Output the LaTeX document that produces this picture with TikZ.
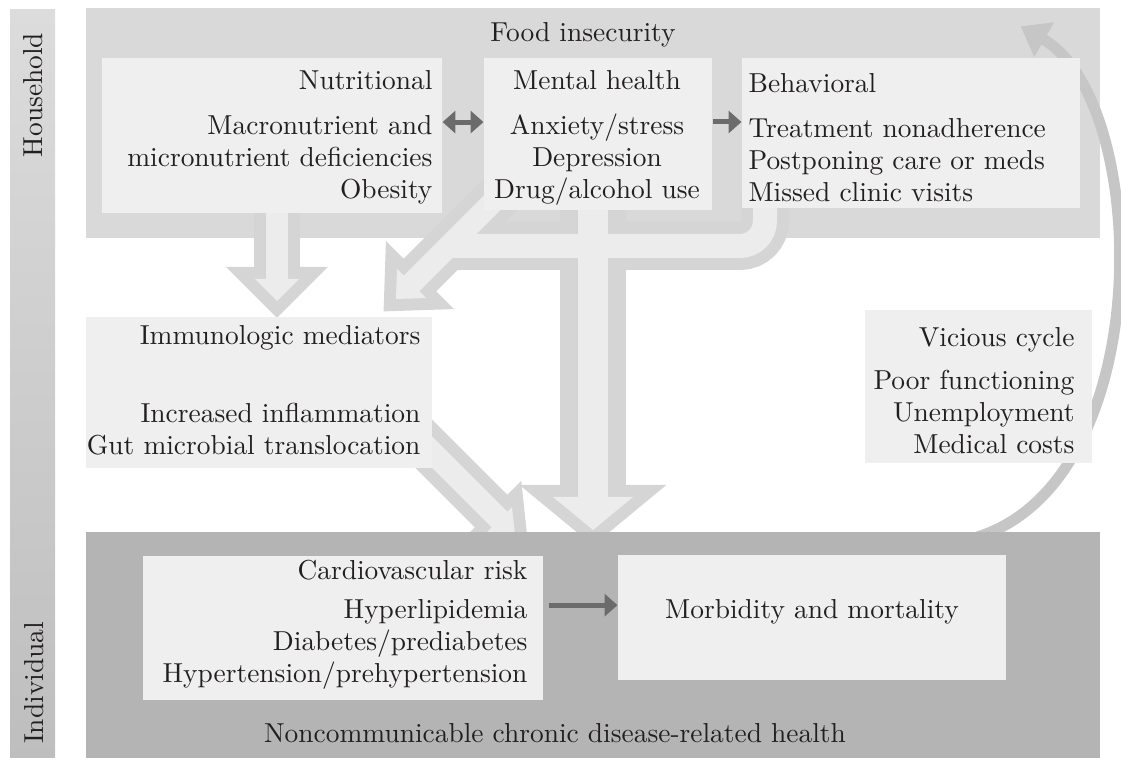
\documentclass[tikz,border=0pt]{standalone}
\usepackage{tikz}
\usetikzlibrary{arrows.meta}
\usepackage{xcolor}

\definecolor{stripTop}{HTML}{DCDCDC}
\definecolor{stripBottom}{HTML}{BEBEBE}
\definecolor{houseGray}{HTML}{D9D9D9}
\definecolor{indivGray}{HTML}{B4B4B4}
\definecolor{panelGray}{HTML}{EFEFEF}
\definecolor{pipeEdge}{HTML}{D5D5D5}
\definecolor{pipeFill}{HTML}{ECECEC}
\definecolor{cycleGray}{HTML}{C6C6C6}
\definecolor{arrowDark}{HTML}{6B6B6B}
\definecolor{inkDark}{HTML}{231F20}

\pgfdeclarelayer{back}
\pgfdeclarelayer{pipes}
\pgfsetlayers{back,pipes,main}

\tikzstyle{level} = [rectangle, inner sep=0pt, draw=none]
\tikzstyle{panel} = [rectangle, inner sep=0pt, fill=panelGray]
\tikzstyle{boxtext} = [inner sep=0pt, text=inkDark]
\tikzstyle{pipeedge} = [draw=pipeEdge, line cap=butt]
\tikzstyle{pipefill} = [draw=pipeFill, line cap=butt]
\tikzstyle{pipetipedge} = [draw=pipeEdge, fill=pipeEdge, line width=8.4pt, line join=miter]
\tikzstyle{darkarrow} = [draw=arrowDark, line width=1.75pt, -{Triangle[length=4.5pt,width=7.7pt]}]
\tikzstyle{cyclearrow} = [draw=cycleGray, line width=3.85pt, -{Triangle[length=9.5pt,width=13.3pt]}]

\begin{document}
\begin{tikzpicture}[x=0.35pt, y=-0.35pt, font=\fontsize{9.6}{11.2}\selectfont]
	\useasboundingbox (0,0) rectangle (1121,758);

	\begin{pgfonlayer}{back}
		\node (strip) [level, top color=stripTop, bottom color=stripBottom, minimum width=15.75pt, minimum height=261.8pt] at (32.5,384) {};
		\node (house) [level, fill=houseGray, minimum width=354.9pt, minimum height=80.5pt] at (593,123) {};
	\end{pgfonlayer}

	\node (hhLabel) [boxtext, rotate=90] at (33,95) {Household};
	\node (indLabel) [boxtext, rotate=90] at (34,683) {Individual};
	\node (title) [boxtext] at (583,35) {Food insecurity};

	% household panels
	\node (nutr) [panel, minimum width=119pt, minimum height=54.25pt] at (272,135.5) {};
	\node (nutrText) [boxtext, anchor=east, align=right] at (433,137.5) {Nutritional\\[4.55pt] Macronutrient and\\ micronutrient deficiencies\\ Obesity};
	\node (ment) [panel, minimum width=79.8pt, minimum height=53.2pt] at (598,134) {};
	\node (mentText) [boxtext, align=center] at (597,137.5) {Mental health\\[4.55pt] Anxiety/stress\\ Depression\\ Drug/alcohol use};
	\node (behav) [panel, minimum width=118.3pt, minimum height=52.5pt] at (911,133) {};
	\node (behavText) [boxtext, anchor=west, align=left] at (748,137.5) {Behavioral\\[4.55pt] Treatment nonadherence\\ Postponing care or meds\\ Missed clinic visits};

	% middle panels
	\node (immu) [panel, minimum width=121.1pt, minimum height=52.85pt] at (259,392.5) {};
	\node (immuText) [boxtext, anchor=east, align=right] at (421,390) {Immunologic mediators\\[16.1pt] Increased inflammation\\ Gut microbial translocation};
	\node (vici) [panel, minimum width=79.45pt, minimum height=53.55pt] at (978.5,386.5) {};
	\node (viciText) [boxtext, anchor=east, align=right] at (1075,390.5) {Vicious cycle\\[3.85pt] Poor functioning\\ Unemployment\\ Medical costs};

	% individual level
	\node (indiv) [level, fill=indivGray, minimum width=354.9pt, minimum height=79.1pt] at (593,645) {};
	\node (cardio) [panel, minimum width=140pt, minimum height=50.4pt] at (343,628) {};
	\node (cardioText) [boxtext, anchor=east, align=right] at (528,625) {Cardiovascular risk\\[2.45pt] Hyperlipidemia\\ Diabetes/prediabetes\\ Hypertension/prehypertension};
	\node (morb) [panel, minimum width=135.8pt, minimum height=43.75pt] at (812,617.5) {};
	\node (morbText) [boxtext] at (812,612) {Morbidity and mortality};
	\node (ncd) [boxtext] at (555,733) {Noncommunicable chronic disease-related health};

	\draw [darkarrow, {Triangle[length=4.5pt,width=7.7pt]}-{Triangle[length=4.5pt,width=7.7pt]}] ([yshift=4.7pt]nutr.east) -- ([yshift=4.7pt]nutr.east -| ment.west);
	\draw [darkarrow] ([yshift=4.2pt]ment.east) -- ([yshift=4.2pt]ment.east -| behav.west);
	\draw [darkarrow] ([xshift=1.75pt,yshift=8pt]cardio.east) -- ([yshift=8pt]cardio.east -| morb.west);

	\begin{pgfonlayer}{pipes}
		% grey rims
		\draw [pipeedge, line width=16.1pt] (277,200) -- (277,280);
		\draw [pipeedge, line width=16.8pt, rounded corners=8.75pt] (765,195) -- (765,246) -- (450,246);
		\draw [pipeedge, line width=16.1pt] (505,190) -- (411,284);
		\draw [pipeedge, line width=23.1pt] (593,195) -- (593,498);
		\draw [pipeedge, line width=16.1pt] (405,425) -- (500,520);
		\filldraw [pipetipedge] (255,279) -- (299,279) -- (277,301) -- cycle;
		\filldraw [pipetipedge] (397,269) -- (426,298) -- (396,299) -- cycle;
		\filldraw [pipetipedge] (553,497) -- (633,497) -- (593,530) -- cycle;
		\filldraw [pipetipedge] (512,507) -- (487,532) -- (515,535) -- cycle;
		% light insides
		\draw [pipefill, line width=7.7pt] (277,200) -- (277,280);
		\draw [pipefill, line width=8.4pt, rounded corners=8.75pt] (765,195) -- (765,246) -- (450,246);
		\draw [pipefill, line width=7.7pt] (505,190) -- (411,284);
		\draw [pipefill, line width=10.5pt] (593,195) -- (593,498);
		\draw [pipefill, line width=7.7pt] (405,425) -- (500,520);
		\fill [pipeFill] (255,279) -- (299,279) -- (277,301) -- cycle;
		\fill [pipeFill] (397,269) -- (426,298) -- (396,299) -- cycle;
		\fill [pipeFill] (553,497) -- (633,497) -- (593,530) -- cycle;
		\fill [pipeFill] (512,507) -- (487,532) -- (515,535) -- cycle;
		% back to the household
		\draw [cyclearrow] ([xshift=134.4pt,yshift=-2pt]indiv.north) .. controls (1160,480) and (1150,100) .. ([xshift=-28pt,yshift=-6.6pt]house.north east);
	\end{pgfonlayer}
\end{tikzpicture}
\end{document}
